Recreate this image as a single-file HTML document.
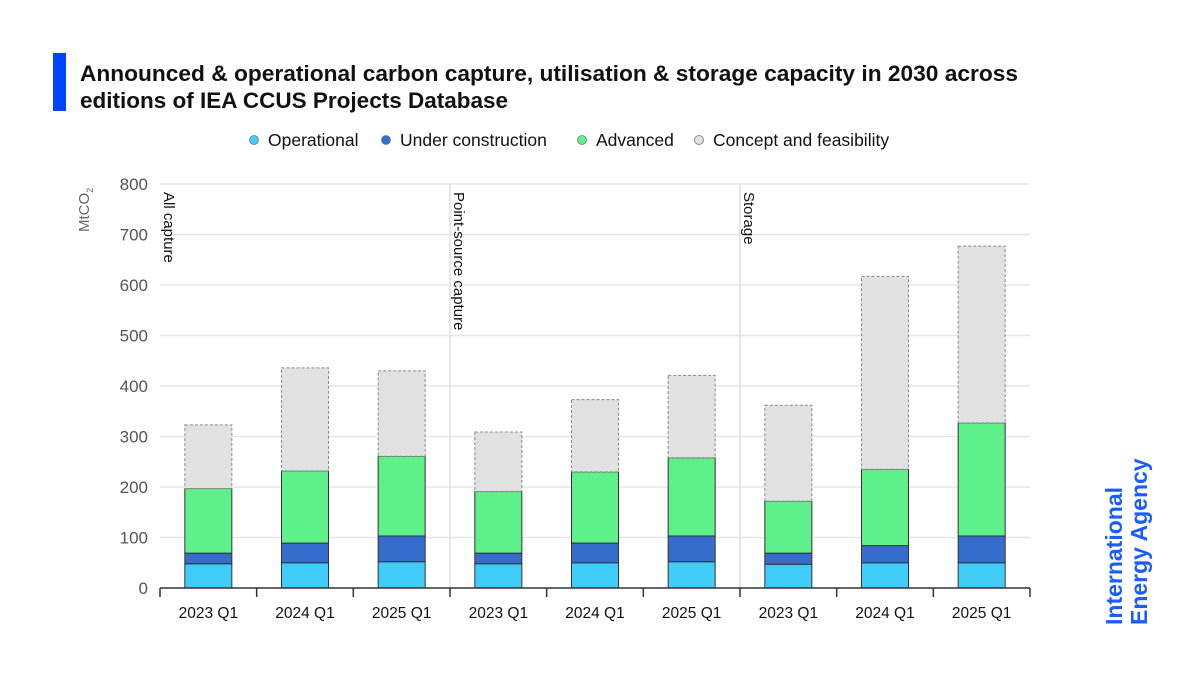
<!DOCTYPE html>
<html><head><meta charset="utf-8"><style>
body{margin:0;background:#fff;}
svg text{font-family:"Liberation Sans",sans-serif;}
</style></head><body>
<svg id="c" width="1200" height="675" xmlns="http://www.w3.org/2000/svg">
<rect x="53" y="53" width="13" height="58" fill="#0044ff"/>
<text x="80" y="81" font-size="22.5" font-weight="bold" fill="#111" textLength="938" lengthAdjust="spacingAndGlyphs">Announced &amp; operational carbon capture, utilisation &amp; storage capacity in 2030 across</text>
<text x="80" y="108" font-size="22.5" font-weight="bold" fill="#111">editions of IEA CCUS Projects Database</text>
<g id="legend"></g>
<text transform="translate(89,232) rotate(-90)" font-size="15" fill="#666">MtCO<tspan font-size="9" dy="4">2</tspan></text>
<g id="grid"></g><g id="bars"></g><g id="axes"></g>
<text transform="translate(1122,625) rotate(-90)" font-size="23" font-weight="bold" fill="#1a5cff">International</text>
<text transform="translate(1147,625) rotate(-90)" font-size="23" font-weight="bold" fill="#1a5cff">Energy Agency</text>
</svg>
<script>
const categories=["2023 Q1","2024 Q1","2025 Q1","2023 Q1","2024 Q1","2025 Q1","2023 Q1","2024 Q1","2025 Q1"];
const groups=["All capture","Point-source capture","Storage"];
const operational=[48,50,52,48,50,52,47,50,50];
const underConstruction=[21,39,51,21,39,51,22,34,53];
const advanced=[128,143,158,122,141,155,103,151,224];
const concept=[126,204,169,118,143,163,190,382,350];
const yTicks=[0,100,200,300,400,500,600,700,800];
const seriesNames=["Operational","Under construction","Advanced","Concept and feasibility"];
const colors=["#41cdfa","#356dcc","#5ef08a","#e1e1e1"];
const NS="http://www.w3.org/2000/svg";
const x0=160,x1=1030,yb=588,yt=184,ymax=800;
const step=(x1-x0)/categories.length,bw=47;
const y=v=>yb-(v/ymax)*(yb-yt);
const xc=i=>x0+step*(i+0.5);
function mk(tag,attrs,parent){const e=document.createElementNS(NS,tag);for(const k in attrs)e.setAttribute(k,attrs[k]);parent.appendChild(e);return e;}
const grid=document.getElementById('grid'),bars=document.getElementById('bars'),axes=document.getElementById('axes'),legend=document.getElementById('legend');
yTicks.forEach(t=>{
  if(t>0){const l=mk('line',{x1:x0,x2:x1,y1:y(t),y2:y(t),stroke:'#e6e6e6','stroke-width':1.5},grid);
  
  }
  const tx=mk('text',{x:x0-12,y:y(t)+6,'text-anchor':'end','font-size':17,fill:'#555'},axes);tx.textContent=t;
  
  
});
groups.forEach((g,gi)=>{
  const gx=x0+step*3*gi;
  if(gi>0){const l=mk('line',{x1:gx,x2:gx,y1:yt,y2:yb,stroke:'#e0e0e0','stroke-width':1.5},grid);
  
  }
  const t=mk('text',{transform:`translate(${gx+4},${yt+8}) rotate(90)`,'font-size':15,fill:'#111'},axes);t.textContent=g;
  
  
});
const series=[operational,underConstruction,advanced,concept];
categories.forEach((c,i)=>{
  let cum=0;
  series.forEach((s,si)=>{
    const v=s[i],top=cum+v;
    const r=mk('rect',{x:xc(i)-bw/2,y:y(top),width:bw,height:y(cum)-y(top),fill:colors[si],stroke:si==3?'#888':'#333','stroke-width':1,'stroke-dasharray':si==3?'3,2':'none'},bars);
    
    
    cum=top;
  });
  const t=mk('text',{x:xc(i),y:yb+30,'text-anchor':'middle','font-size':15.5,fill:'#111'},axes);t.textContent=c;
  
  
});
mk('line',{x1:x0,x2:x1,y1:yb,y2:yb,stroke:'#333','stroke-width':1.5},axes);
for(let i=0;i<=categories.length;i++){mk('line',{x1:x0+step*i,x2:x0+step*i,y1:yb,y2:yb+9,stroke:'#333','stroke-width':1.5},axes);}
const lx=[254,386,582,699];
seriesNames.forEach((n,i)=>{
  const c=mk('circle',{cx:lx[i],cy:140,r:4.5,fill:colors[i],stroke:'#777','stroke-width':0.8},legend);
  
  
  const t=mk('text',{x:lx[i]+14,y:146,'font-size':17.5,fill:'#111'},legend);t.textContent=n;
  
  
});
</script>
</body></html>
